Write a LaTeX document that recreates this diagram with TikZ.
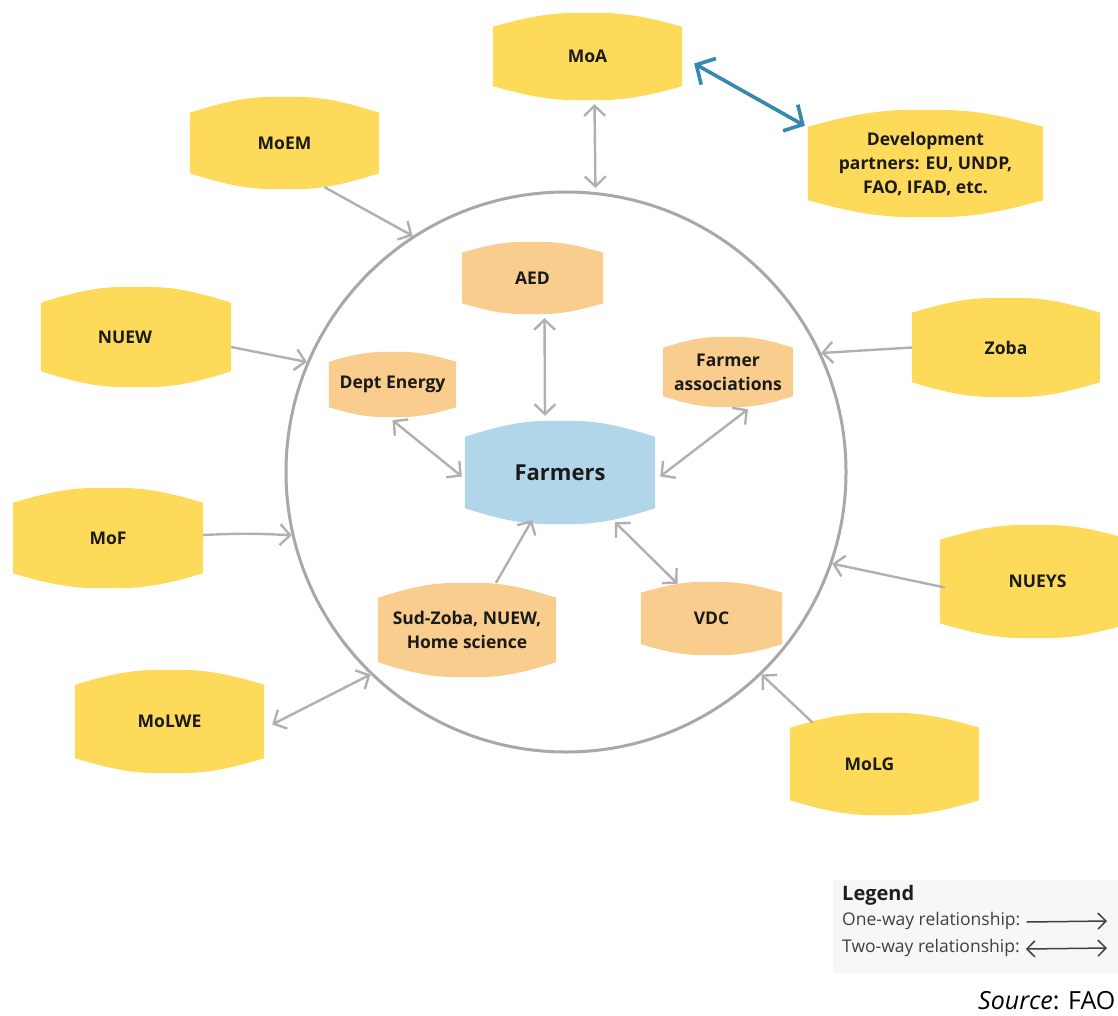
\documentclass[tikz,border=0pt]{standalone}
\usepackage{fontspec}
\setmainfont{Open Sans}
\usetikzlibrary{arrows.meta,calc,backgrounds}

\definecolor{govyellow}{HTML}{FDDA5A}
\definecolor{localorange}{HTML}{F8CD8D}
\definecolor{farmerblue}{HTML}{B1D6EA}
\definecolor{linkgray}{HTML}{B0B0B0}
\definecolor{ringgray}{HTML}{A8A8A8}
\definecolor{partnerblue}{HTML}{3589B0}
\definecolor{labeltext}{HTML}{1A1A1A}
\definecolor{legendbg}{HTML}{F7F7F7}
\definecolor{legendtext}{HTML}{404040}

% Fill a box whose top and bottom edges bulge outwards (#1 node, #2 colour, #3 bulge depth)
\newcommand\maskfill[3]{%
  \fill[#2] ($(#1.north west)+(0,#3)$)
    .. controls ($(#1.north west)!0.26!(#1.north east)$) and ($(#1.north west)!0.36!(#1.north east)$) .. (#1.north)
    .. controls ($(#1.north west)!0.64!(#1.north east)$) and ($(#1.north west)!0.74!(#1.north east)$) .. ($(#1.north east)+(0,#3)$)
    -- ($(#1.south east)+(0,-#3)$)
    .. controls ($(#1.south west)!0.74!(#1.south east)$) and ($(#1.south west)!0.64!(#1.south east)$) .. (#1.south)
    .. controls ($(#1.south west)!0.36!(#1.south east)$) and ($(#1.south west)!0.26!(#1.south east)$) .. ($(#1.south west)+(0,-#3)$)
    -- cycle;}

\tikzset{
  org/.style={rectangle, inner sep=0pt, align=center, text=labeltext,
    font=\bfseries\fontsize{17.5}{24}\selectfont},
  boxsize/.style 2 args={minimum width=#1pt, minimum height=#2pt},
  barb/.tip={Straight Barb[length=10pt,width=21pt]},
  link/.style={draw=linkgray, line width=2.4pt},
  oneway/.style={link, -barb},
  twoway/.style={link, barb-barb},
  partnerlink/.style={draw=partnerblue, line width=3.6pt,
    {Straight Barb[length=14pt,width=30pt]}-{Straight Barb[length=14pt,width=30pt]}},
  legendarrow/.style={draw=legendtext, line width=1.5pt},
  legendtip/.tip={Straight Barb[length=8pt,width=16pt]},
}

\begin{document}
\begin{tikzpicture}[x=1pt, y=-1pt]
\useasboundingbox (0,0) rectangle (1118,1016);

% the ring of the farming community
\node[circle, draw=ringgray, line width=3pt, minimum size=560pt, inner sep=0pt] (ring) at (566,472) {};

% national bodies and partners
\node[org, boxsize={189}{87}]  (moa)      at (587.5,56.5) {MoA};
\node[org, boxsize={189}{92}]  (moem)     at (284.5,143)  {MoEM};
\node[org, boxsize={235}{107}] (partners) at (925.5,163.5) {Development\\partners: EU, UNDP,\\FAO, IFAD, etc.};
\node[org, boxsize={190}{100}] (nuew)     at (136,337)    {NUEW\hspace{22pt}};
\node[org, boxsize={188}{99}]  (zoba)     at (1006,347.5) {Zoba};
\node[org, boxsize={190}{100}] (mof)      at (108,538)    {MoF};
\node[org, boxsize={189}{103}] (molwe)    at (169.5,721.5) {MoLWE};
\node[org, boxsize={190}{113}] (nueys)    at (1035,581.5) {NUEYS\hspace{-5pt}};
\node[org, boxsize={189}{102}] (molg)     at (884.5,764)  {MoLG\hspace{30pt}};

% local bodies inside the ring
\node[org, boxsize={141}{72}]  (aed)     at (532.5,278)   {AED};
\node[org, boxsize={127}{65}]  (dept)    at (392.5,384.5) {Dept Energy};
\node[org, boxsize={130}{70}]  (assoc)   at (728,372)     {Farmer\\associations};
\node[org, boxsize={190}{103}, font=\bfseries\fontsize{22}{26}\selectfont] (farmers) at (560,472.5) {Farmers};
\node[org, boxsize={178}{94}]  (sudzoba) at (467,630)     {Sud-Zoba, NUEW,\\Home science};
\node[org, boxsize={141}{73}]  (vdc)     at (711.5,618.5) {VDC};

\begin{scope}[on background layer]
  \maskfill{moa}{govyellow}{14}
  \maskfill{moem}{govyellow}{16}
  \maskfill{partners}{govyellow}{17}
  \maskfill{nuew}{govyellow}{16}
  \maskfill{zoba}{govyellow}{15}
  \maskfill{mof}{govyellow}{15}
  \maskfill{molwe}{govyellow}{15}
  \maskfill{nueys}{govyellow}{15}
  \maskfill{molg}{govyellow}{15}
  \maskfill{aed}{localorange}{11}
  \maskfill{dept}{localorange}{10}
  \maskfill{assoc}{localorange}{11}
  \maskfill{farmers}{farmerblue}{16}
  \maskfill{sudzoba}{localorange}{15}
  \maskfill{vdc}{localorange}{11}
\end{scope}

% links between national bodies and the ring
\draw[twoway] ($(moa.south)+(7,4)$) -- ($(ring.84)+(0,-4)$);
\draw[partnerlink] ($(moa.east)+(12,7)$) -- ($(partners.north west)+(-3,16)$);
\draw[oneway] ($(moem.south)+(40,-2)$) -- (ring.123.6);
\draw[oneway] ($(nuew.east)+(0,10)$) -- (ring.157);
\draw[oneway] ($(mof.east)+(0,-3)$) to[bend left=3] (ring.193.6);
\draw[twoway] ($(molwe.east)+(8,3)$) -- (ring.226.7);
\draw[oneway] (zoba.west) -- (ring.25.5);
\draw[oneway] ($(nueys.west)+(5,6)$) -- (ring.341.4);
\draw[oneway] ($(molg.north west)+(23,10)$) -- (ring.314);

% links inside the ring
\draw[twoway] ($(aed.south)+(12,4)$) -- ($(farmers.north)+(-15,-5)$);
\draw[twoway] ($(dept.south)+(0,3)$) -- ($(farmers.west)+(-3,4)$);
\draw[twoway] ($(assoc.south)+(20,2)$) -- ($(farmers.east)+(5,4)$);
\draw[oneway] ($(sudzoba.north)+(29,0)$) -- ($(farmers.south)+(-28,-4)$);
\draw[twoway] ($(vdc.north)+(-34,2)$) -- ($(farmers.south)+(55,-2)$);

% legend
\node[fill=legendbg, minimum width=292pt, minimum height=93pt, inner sep=0pt, anchor=north west] (legend) at (833,880) {};
\node[anchor=west, inner sep=0pt, font=\bfseries\fontsize{20}{22}\selectfont, text=black!88] (legtitle) at (842,895) {Legend};
\node[anchor=west, inner sep=0pt, font=\fontsize{17.5}{20}\selectfont, text=legendtext] (legone) at (842,921) {One-way relationship:};
\node[anchor=west, inner sep=0pt, font=\fontsize{17.5}{20}\selectfont, text=legendtext] (legtwo) at (842,948) {Two-way relationship:};
\coordinate (legoneend) at (1107,921);
\coordinate (legtwoend) at (1107,948);
\draw[legendarrow, -legendtip] ($(legone.east)+(6,1)$) -- (legoneend);
\draw[legendarrow, legendtip-legendtip] ($(legtwo.east)+(6,1)$) -- (legtwoend);

% source line
\node[anchor=base west, inner sep=0pt, font=\fontsize{25}{28}\selectfont, text=black] (source) at (978,1009) {\textit{Source}: FAO};
\end{tikzpicture}
\end{document}
